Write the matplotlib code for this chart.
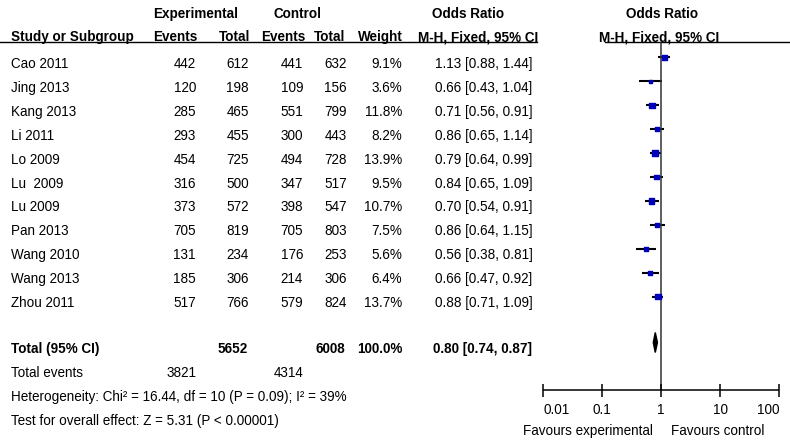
import numpy as np
import matplotlib
matplotlib.use("Agg")
import matplotlib.pyplot as plt
from matplotlib.patches import Polygon

plt.rcParams['font.family'] = ['Liberation Sans', 'DejaVu Sans']

################### Data ###################

studies = ["Cao 2011", "Jing 2013", "Kang 2013", "Li 2011", "Lo 2009", "Lu  2009",
           "Lu 2009", "Pan 2013", "Wang 2010", "Wang 2013", "Zhou 2011"]
events_exp = [442, 120, 285, 293, 454, 316, 373, 705, 131, 185, 517]
total_exp = [612, 198, 465, 455, 725, 500, 572, 819, 234, 306, 766]
events_ctl = [441, 109, 551, 300, 494, 347, 398, 705, 176, 214, 579]
total_ctl = [632, 156, 799, 443, 728, 517, 547, 803, 253, 306, 824]
weights = [9.1, 3.6, 11.8, 8.2, 13.9, 9.5, 10.7, 7.5, 5.6, 6.4, 13.7]
odds = [1.13, 0.66, 0.71, 0.86, 0.79, 0.84, 0.70, 0.86, 0.56, 0.66, 0.88]
ci_low = [0.88, 0.43, 0.56, 0.65, 0.64, 0.65, 0.54, 0.64, 0.38, 0.47, 0.71]
ci_high = [1.44, 1.04, 0.91, 1.14, 0.99, 1.09, 0.91, 1.15, 0.81, 0.92, 1.09]

pooled = (0.80, 0.74, 0.87)
sum_total_exp, sum_total_ctl = 5652, 6008
sum_events_exp, sum_events_ctl = 3821, 4314
heterogeneity = "Heterogeneity: Chi\u00b2 = 16.44, df = 10 (P = 0.09); I\u00b2 = 39%"
overall = "Test for overall effect: Z = 5.31 (P < 0.00001)"

ticks = [0.01, 0.1, 1, 10, 100]
tick_labels = ["0.01", "0.1", "1", "10", "100"]

################### Layout (pixels) ###################

W, H = 790, 444
FS = 9.75
row0, row_step = 68, 23.9
mark_off = 10.5
blue = "#0000b8"

fig = plt.figure(figsize=(W / 100, H / 100), dpi=100)
bg = fig.add_axes([0, 0, 1, 1])
bg.set_xlim(0, W)
bg.set_ylim(H, 0)
bg.axis("off")

def put(x, y, s, ha="left", bold=False):
    bg.text(x, y, s, ha=ha, va="baseline", fontsize=FS,
            fontweight="bold" if bold else "normal")

# headers
put(196, 18, "Experimental", "center", True)
put(298, 18, "Control", "center", True)
put(468, 18, "Odds Ratio", "center", True)
put(662, 18, "Odds Ratio", "center", True)
put(11, 41, "Study or Subgroup", bold=True)
put(197, 41, "Events", "right", True)
put(250, 41, "Total", "right", True)
put(305, 41, "Events", "right", True)
put(345, 41, "Total", "right", True)
put(403, 41, "Weight", "right", True)
put(478, 41, "M-H, Fixed, 95% CI", "center", True)
put(659, 41, "M-H, Fixed, 95% CI", "center", True)
bg.plot([0, 537], [42.5, 42.5], color="black", lw=1)
bg.plot([605, W], [42.5, 42.5], color="black", lw=1)

# study rows
for i, name in enumerate(studies):
    y = row0 + i * row_step
    put(11, y, name)
    put(196, y, str(events_exp[i]), "right")
    put(249, y, str(total_exp[i]), "right")
    put(303, y, str(events_ctl[i]), "right")
    put(347, y, str(total_ctl[i]), "right")
    put(402, y, f"{weights[i]:.1f}%", "right")
    put(435, y, f"{odds[i]:.2f} [{ci_low[i]:.2f}, {ci_high[i]:.2f}]")

# totals
put(11, 353, "Total (95% CI)", bold=True)
put(248, 353, str(sum_total_exp), "right", True)
put(345, 353, str(sum_total_ctl), "right", True)
put(402, 353, "100.0%", "right", True)
put(433, 353, f"{pooled[0]:.2f} [{pooled[1]:.2f}, {pooled[2]:.2f}]", bold=True)
put(11, 377, "Total events")
put(197, 377, str(sum_events_exp), "right")
put(303, 377, str(sum_events_ctl), "right")
put(11, 401, heterogeneity)
put(11, 425, overall)

################### Forest plot ###################

ax = fig.add_axes([543 / W, 0, 236 / W, 1])
ax.set_xscale("log")
ax.set_xlim(0.01, 100)
ax.set_ylim(H, 0)
ax.axis("off")

ys = [row0 + i * row_step - mark_off for i in range(len(studies))]
ax.hlines(ys, ci_low, ci_high, color="black", lw=1.5, clip_on=False)
sizes = [(1.6 * np.sqrt(w) * 0.72) ** 2 for w in weights]
ax.scatter(odds, ys, s=sizes, marker="s", color=blue, zorder=3, clip_on=False)

# line of no effect
ax.vlines(1, 42.5, 390, color="#333333", lw=1.1)

# pooled diamond
yd = 353 - mark_off
ax.add_patch(Polygon([(pooled[1], yd), (pooled[0], yd - 10), (pooled[2], yd),
                      (pooled[0], yd + 10)], closed=True, color="black"))

# x axis
ax.hlines(390, ticks[0], ticks[-1], color="black", lw=1.1, clip_on=False)
ax.vlines(ticks, 383.5, 396.5, color="black", lw=1.1, clip_on=False)
for t, lab in zip(ticks, tick_labels):
    ha = "left" if t == ticks[0] else ("right" if t == ticks[-1] else "center")
    ax.text(t, 414, lab, ha=ha, va="baseline", fontsize=FS, clip_on=False)
ax.text(0.72, 435, "Favours experimental", ha="right", va="baseline", fontsize=FS)
ax.text(1.45, 435, "Favours control", ha="left", va="baseline", fontsize=FS)

fig.savefig("out.png", dpi=100)
